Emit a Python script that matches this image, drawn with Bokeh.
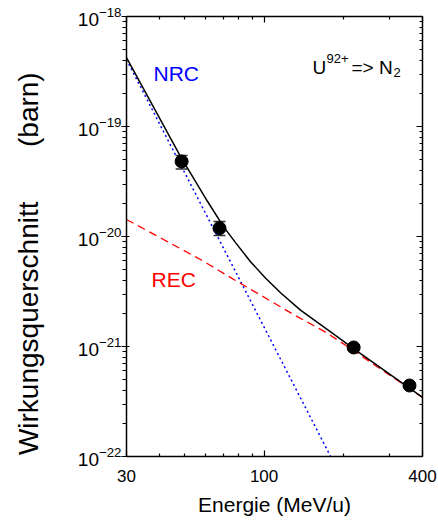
import numpy as np
from bokeh.plotting import figure
from bokeh.models import (LogAxis, FixedTicker, BasicTickFormatter, Label,
                          Whisker, TeeHead, ColumnDataSource, Range1d,
                          CustomJSTickFormatter)
from bokeh.embed import file_html
from bokeh.resources import INLINE

# ---------------- data ----------------
energy = [48.6, 67.7, 219.0, 357.0]                 # MeV/u
sigma = [4.81e-20, 1.19e-20, 9.8e-22, 4.42e-22]     # barn
sigma_hi = [5.45e-20, 1.37e-20, 1.03e-21, 4.6e-22]
sigma_lo = [4.11e-20, 1.02e-20, 9.3e-22, 4.25e-22]

total_e = [30, 48.1, 61.0, 70.1, 77.9, 88.8, 101.2, 115.5, 137.5, 179, 216.8, 400]
total_s = [4.24e-19, 5.35e-20, 2.08e-20, 1.23e-20, 8.8e-21, 5.9e-21, 4.2e-21,
           3.08e-21, 2.14e-21, 1.36e-21, 9.7e-22, 3.44e-22]

nrc_e = [30, 179]
nrc_s = [4.06e-19, 1.0e-22]

rec_e = [30, 57.3, 77.9, 95.2, 128.2, 171.2, 209.3, 400]
rec_s = [1.428e-20, 6.18e-21, 3.98e-21, 3.01e-21, 1.98e-21, 1.35e-21, 9.86e-22, 3.44e-22]

x_major = [30, 100, 400]
x_minor = [40, 50, 60, 70, 80, 90, 200, 300]
y_major = [1e-22, 1e-21, 1e-20, 1e-19, 1e-18]
y_minor = [k * 10.0 ** n for n in range(-22, -18) for k in range(2, 10)]

# ---------------- layout helpers (pixel -> data) ----------------
FX0, FX1, FY0, FY1 = 126, 422, 16, 456
def dx(px):
    return 10 ** (np.log10(30) + (px - FX0) / (FX1 - FX0) * np.log10(400 / 30))
def dy(py):
    return 10 ** (-18 - (py - FY0) / (FY1 - FY0) * 4)

FONT = "Liberation Sans"
NB = "\u00a0"

p = figure(width=438, height=520, x_axis_type="log", y_axis_type="log",
           x_range=Range1d(30, 400), y_range=Range1d(1e-22, 1e-18),
           output_backend="svg", toolbar_location=None,
           min_border_left=126, min_border_right=16, min_border_top=16,
           min_border_bottom=64)
p.outline_line_color = None
p.grid.visible = False
p.background_fill_color = "white"

xt = FixedTicker(ticks=x_major, minor_ticks=x_minor)
yt = FixedTicker(ticks=y_major, minor_ticks=y_minor)

# bottom axis
bx = p.xaxis[0]
bx.ticker = xt
bx.formatter = BasicTickFormatter()
bx.major_tick_in = 6
bx.major_tick_out = 0
bx.minor_tick_in = 3
bx.minor_tick_out = 0
bx.major_label_standoff = 13
bx.major_label_text_font = FONT
bx.major_label_text_font_size = "17px"
bx.major_label_text_color = "black"
bx.axis_label = "Energie (MeV/u)"
bx.axis_label_text_font = FONT
bx.axis_label_text_font_size = "21px"
bx.axis_label_text_font_style = "normal"
bx.axis_label_text_color = "black"
bx.axis_label_standoff = 8

# left axis
ly = p.yaxis[0]
ly.ticker = yt
ly.major_tick_in = 3
ly.major_tick_out = 5
ly.minor_tick_in = 0
ly.minor_tick_out = 4
ly.major_label_standoff = 0
ly.major_label_text_font = FONT
ly.major_label_text_font_size = "19px"
ly.major_label_text_color = "black"
ly.axis_label = "Wirkungsquerschnitt" + NB * 7 + "(barn)" + NB * 7
ly.axis_label_text_font = FONT
ly.axis_label_text_font_size = "28px"
ly.axis_label_text_font_style = "normal"
ly.axis_label_text_color = "black"
ly.axis_label_standoff = 31

for ax in (bx, ly):
    ax.axis_line_width = 1.5
    ax.axis_line_color = "black"
    ax.major_tick_line_color = "black"
    ax.minor_tick_line_color = "black"
    ax.major_tick_line_width = 1.2
    ax.minor_tick_line_width = 1.2

# top and right axes (ticks only)
blank = CustomJSTickFormatter(code="return ''")
top = LogAxis(ticker=xt, formatter=blank, major_label_text_font_size="1px",
              major_label_standoff=0, major_tick_in=6, major_tick_out=0,
              minor_tick_in=3, minor_tick_out=0, axis_line_width=1.5,
              major_tick_line_width=1.2, minor_tick_line_width=1.2)
right = LogAxis(ticker=yt, formatter=blank, major_label_text_font_size="1px",
                major_label_standoff=0, major_tick_in=6, major_tick_out=0,
                minor_tick_in=3, minor_tick_out=0, axis_line_width=1.5,
                major_tick_line_width=1.2, minor_tick_line_width=1.2)
p.add_layout(top, "above")
p.add_layout(right, "right")

# curves
p.line(nrc_e, nrc_s, line_color="#0000ff", line_width=1.5, line_dash="2 3")
p.line(rec_e, rec_s, line_color="#ff0000", line_width=1.3, line_dash="8 5")
p.line(total_e, total_s, line_color="black", line_width=1.5)

# error bars and points
src = ColumnDataSource(dict(x=energy, y=sigma, upper=sigma_hi, lower=sigma_lo))
p.add_layout(Whisker(source=src, base="x", upper="upper", lower="lower",
                     line_color="#333333", line_width=1.5,
                     upper_head=TeeHead(size=12, line_color="#333333", line_width=1.5),
                     lower_head=TeeHead(size=12, line_color="#333333", line_width=1.5)))
p.scatter("x", "y", source=src, size=13, color="black")

# texts inside the frame
def lab(px, py, text, size, color="black"):
    p.add_layout(Label(x=dx(px), y=dy(py), text=text, text_font=FONT,
                       text_font_size=size, text_color=color, text_align="left",
                       text_baseline="alphabetic"))

lab(153, 73, "NRC", "21px", "#0000ff")
lab(151, 279, "REC", "21px", "#ff0000")
lab(312, 67, "U", "19px")
lab(326, 58, "92+", "13px")
lab(351, 67, "=> N", "19px")
lab(393, 72, "2", "13px")

open("out.html", "w").write(file_html(p, INLINE))
